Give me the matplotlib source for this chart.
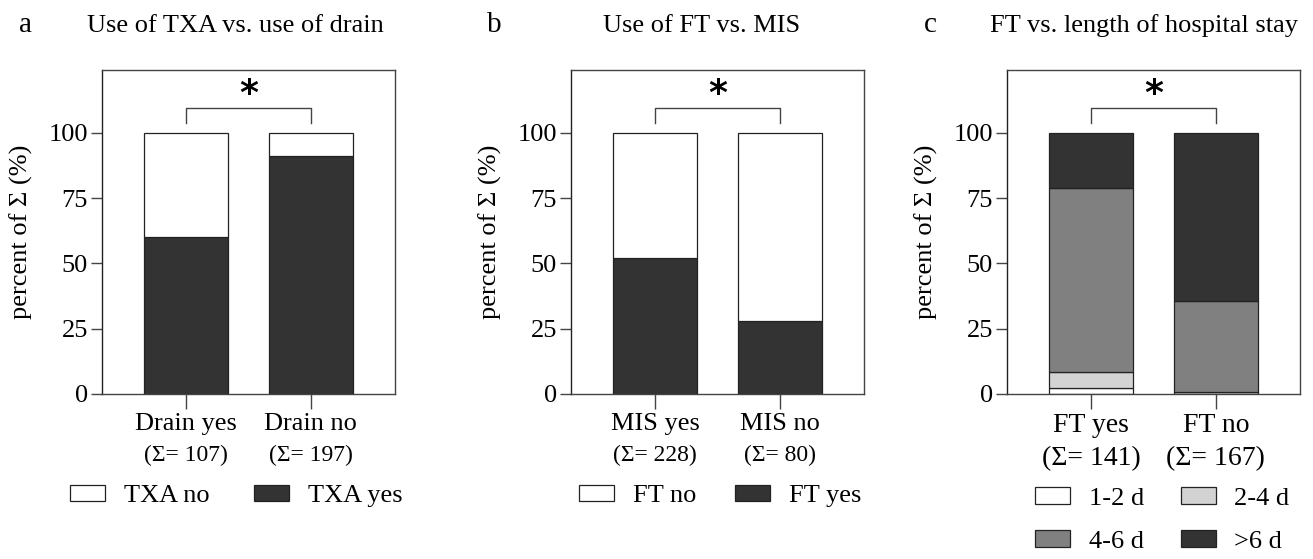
import numpy as np
import matplotlib.pyplot as plt
from matplotlib.patches import Patch

plt.rcParams['font.family'] = ['Liberation Serif', 'DejaVu Serif']
plt.rcParams['axes.linewidth'] = 1.0

# panel a
a_groups = ["Drain yes", "Drain no"]
a_n = ["(\u03a3= 107)", "(\u03a3= 197)"]
a_txa_yes = [60, 91]
a_txa_no = [40, 9]

# panel b
b_groups = ["MIS yes", "MIS no"]
b_n = ["(\u03a3= 228)", "(\u03a3= 80)"]
b_ft_yes = [52, 28]
b_ft_no = [48, 72]

# panel c
c_groups = ["FT yes", "FT no"]
c_n = ["(\u03a3= 141)", "(\u03a3= 167)"]
c_stay_labels = ["1-2 d", "2-4 d", "4-6 d", ">6 d"]
c_d12 = [2.3, 0.0]
c_d24 = [6.0, 0.6]
c_d46 = [70.5, 35.0]
c_d6 = [21.2, 64.4]

dark = "#333333"
mid = "#808080"
light = "#d3d3d3"

fig = plt.figure(figsize=(13.13, 5.59), dpi=100)
W, H = 1313, 559
lefts = [102, 571, 1007]
axes = [fig.add_axes([l / W, (H - 394) / H, 293 / W, 324 / H]) for l in lefts]

x = np.arange(2)
bw = 0.67


def py(p):
    # pixel row below the axes -> axes fraction
    return -(p - 394) / 324.0


def style(ax, labels, nlabels, s1, s2, y1, y2):
    ax.set_xlim(-0.675, 1.675)
    ax.set_ylim(0, 124)
    ax.set_yticks([0, 25, 50, 75, 100])
    ax.set_xticks(x)
    ax.set_xticklabels([])
    ax.tick_params(axis='y', labelsize=19, length=8, width=1, direction='out', pad=2,
                   color='#444444')
    ax.tick_params(axis='x', length=11, width=1, direction='out', color='#444444')
    for s in ax.spines.values():
        s.set_color('#444444')
    ax.spines['left'].set_color('#222222')
    tr = ax.get_xaxis_transform()
    for i in range(2):
        ax.text(x[i], py(y1), labels[i], transform=tr, ha='center', va='center', fontsize=s1)
        ax.text(x[i], py(y2), nlabels[i], transform=tr, ha='center', va='center', fontsize=s2)
    ax.set_ylabel("percent of \u03a3 (%)", fontsize=19)
    ax.yaxis.set_label_coords(-0.235, 0.5)
    # significance bracket
    ax.plot([0, 0, 1, 1], [103.6, 109.4, 109.4, 103.6], color='#444444', lw=1)
    ax.text(0.5, 115, "*", ha='center', va='center', fontsize=26,
            fontweight='bold', family='DejaVu Sans')


kw = dict(width=bw, edgecolor='#222222', linewidth=0.9)

ax = axes[0]
ax.bar(x, a_txa_yes, color=dark, **kw)
ax.bar(x, a_txa_no, bottom=a_txa_yes, color='white', **kw)
style(ax, a_groups, a_n, 19, 17, 424, 455)

ax = axes[1]
ax.bar(x, b_ft_yes, color=dark, **kw)
ax.bar(x, b_ft_no, bottom=b_ft_yes, color='white', **kw)
style(ax, b_groups, b_n, 19, 17, 424, 455)

ax = axes[2]
bottom = np.zeros(2)
for vals, col in zip([c_d12, c_d24, c_d46, c_d6], ['white', light, mid, dark]):
    ax.bar(x, vals, bottom=bottom, color=col, **kw)
    bottom = bottom + np.array(vals)
style(ax, c_groups, c_n, 20, 20, 426, 459)

# titles and panel letters
titles = ["Use of TXA vs. use of drain", "Use of FT vs. MIS", "FT vs. length of hospital stay"]
letters = ["a", "b", "c"]
letter_x = [26, 494, 930]
title_x = [87, 603, 990]
for t, l, lx, tx in zip(titles, letters, letter_x, title_x):
    fig.text(lx / W, 1 - 32 / H, l, fontsize=21, ha='center', va='baseline')
    fig.text(tx / W, 1 - 32 / H, t, fontsize=19, ha='left', va='baseline')

# legends
leg_kw = dict(frameon=False, fontsize=19, handlelength=1.33, handleheight=0.6,
              handletextpad=0.7, borderaxespad=0, borderpad=0)
hA = [Patch(facecolor='white', edgecolor='#222222', lw=0.9, label="TXA no"),
      Patch(facecolor=dark, edgecolor='#222222', lw=0.9, label="TXA yes")]
fig.legend(handles=hA, ncol=2, loc='center left', columnspacing=1.7,
           bbox_to_anchor=(70 / W, 1 - 496 / H), **leg_kw)
hB = [Patch(facecolor='white', edgecolor='#222222', lw=0.9, label="FT no"),
      Patch(facecolor=dark, edgecolor='#222222', lw=0.9, label="FT yes")]
fig.legend(handles=hB, ncol=2, loc='center left', columnspacing=1.48,
           bbox_to_anchor=(579 / W, 1 - 496 / H), **leg_kw)
c_cols = ['white', light, mid, dark]
order = [0, 2, 1, 3]  # row-wise: 1-2 d, 2-4 d / 4-6 d, >6 d
hC = [Patch(facecolor=c_cols[i], edgecolor='#222222', lw=0.9, label=c_stay_labels[i])
      for i in order]
fig.legend(handles=hC, ncol=2, loc='center left', labelspacing=0.75, columnspacing=1.4,
           bbox_to_anchor=(1035 / W, 1 - 520 / H), **leg_kw)

fig.savefig("out.png", dpi=100)
